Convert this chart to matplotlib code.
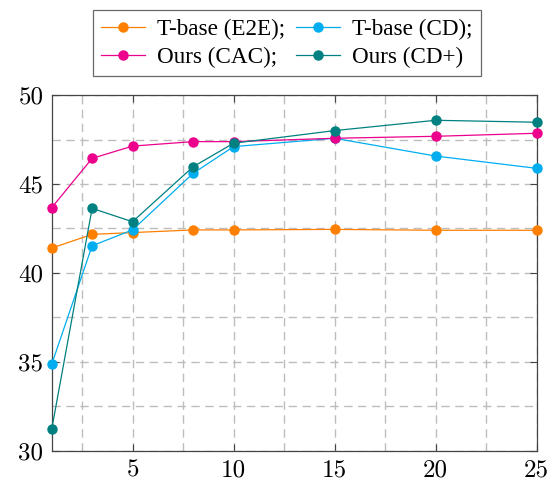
import matplotlib.pyplot as plt
import numpy as np

# data
steps = [1, 3, 5, 8, 10, 15, 20, 25]
e2e = [41.4, 42.17, 42.27, 42.42, 42.42, 42.45, 42.4, 42.4]
cd = [34.87, 41.53, 42.42, 45.6, 47.1, 47.57, 46.57, 45.88]
cac = [43.67, 46.44, 47.13, 47.38, 47.38, 47.57, 47.68, 47.85]
cdplus = [31.22, 43.63, 42.88, 45.97, 47.29, 48.0, 48.58, 48.47]

labels = ['T-base (E2E);', 'T-base (CD);', 'Ours (CAC);', 'Ours (CD+)']
colors = ['#FF8000', '#00AEEF', '#EC008C', '#008080']
x_ticks = [5, 10, 15, 20, 25]
y_ticks = [30, 35, 40, 45, 50]

fig = plt.figure(figsize=(5.59, 4.83), dpi=100)
ax = fig.add_axes([0.0925, 0.0663, 0.8675, 0.737])

handles = []
for ys, lab, c in zip([e2e, cd, cac, cdplus], labels, colors):
    h, = ax.plot(steps, ys, color=c, lw=0.9, marker='o', markersize=6.5,
                 label=lab, clip_on=False, zorder=3)
    handles.append(h)

ax.set_xlim(1, 25)
ax.set_ylim(30, 50)
ax.set_xticks(x_ticks)
ax.set_yticks(y_ticks)
ax.set_xticks(np.arange(2.5, 25, 2.5), minor=True)
ax.set_yticks(np.arange(32.5, 50, 2.5), minor=True)
ax.grid(True, which='both', color='#bdbdbd', ls=(0, (6, 4)), lw=1.0)
ax.set_axisbelow(True)

ax.tick_params(which='major', direction='in', top=True, right=True, length=5,
               width=0.8, color='#444444', labelsize=18, pad=6)
ax.tick_params(which='minor', length=0)
for lab in ax.get_xticklabels() + ax.get_yticklabels():
    lab.set_fontfamily('cmr10')
for s in ax.spines.values():
    s.set_color('#444444')
    s.set_linewidth(0.9)

# row-wise order: matplotlib fills columns first
order = [0, 2, 1, 3]
leg = fig.legend([handles[i] for i in order], [labels[i] for i in order],
                 loc='upper center', bbox_to_anchor=(0.513, 0.993), ncol=2,
                 prop={'family': 'Liberation Serif', 'size': 16.7},
                 frameon=True, fancybox=False, edgecolor='#444444',
                 handlelength=1.9, columnspacing=0.5, handletextpad=0.5,
                 borderpad=0.35, labelspacing=0.3, borderaxespad=0.3)
leg.get_frame().set_linewidth(0.9)

fig.savefig('out.png', dpi=100)
